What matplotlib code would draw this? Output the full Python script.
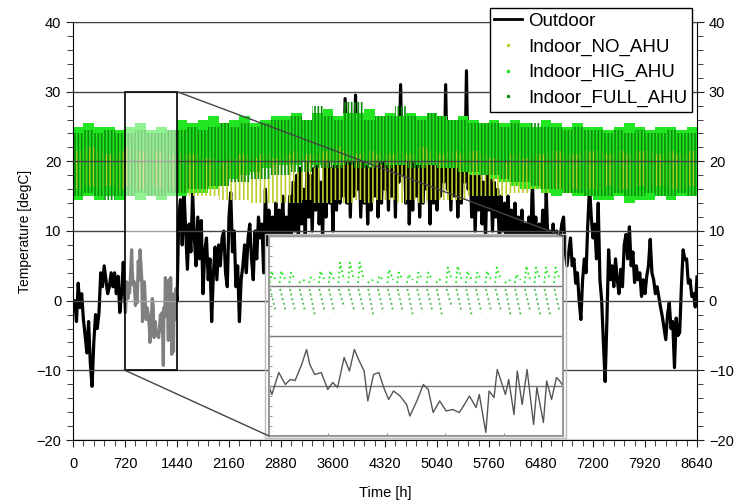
import numpy as np
import matplotlib
matplotlib.use('Agg')
import matplotlib.pyplot as plt
from matplotlib.patches import Rectangle, ConnectionPatch
from matplotlib.lines import Line2D
from matplotlib.ticker import MultipleLocator

plt.rcParams['font.family'] = ['Liberation Sans', 'DejaVu Sans']
plt.rcParams['hatch.linewidth'] = 1.2

# ---- outdoor temperature ----
# 0 .. 696 h, one value per 24 h
seg0_t = [-1, 0, -3, 2.5, -1, 1, -2.7, -5, -7.5, -3, -9, -12.3, -6, -2, -4,
          -1.7, 4, 2, 5, 3, 1, 2, 4, 2, 4, 1, 3.5, -1.7, 1, 5.5]
# 720 .. 1440 h (zoomed part)
box_h = [727, 744, 760, 772, 784, 800, 812, 820, 832, 848, 864, 876, 888, 904,
         917, 929, 941, 953, 962, 976, 989, 1001, 1013, 1025, 1041, 1057, 1065,
         1082, 1098, 1110, 1122, 1138, 1154, 1170, 1186, 1194, 1211, 1227, 1235,
         1251, 1259, 1271, 1279, 1287, 1299, 1307, 1320, 1328, 1340, 1352, 1368,
         1376, 1392, 1400, 1412, 1424, 1432]
box_t = [-1.7, 2.7, 0.3, 1.3, 1.1, 4.3, 7.3, 4.3, 2.3, 2.7, -0.7, 0.7, -0.3, 5.7,
         3, 7.3, 5, 3, -3, 2.3, 2.7, -0.3, -2.7, -1, -2, -3.7, -6,
         -3, 0.3, -0.7, -5.3, -3, -5, -4.7, -5.3, -4.3, -2, -4.3, -1.7,
         -9.3, -1, -2.3, 3.3, 1.3, -1.7, 1.3, -5.7, 3, -3.7, 3.3, -7.7,
         -0.3, -7.3, 1, -2.7, 1.7, 1]
# 1440 .. 6840 h, one value per 24 h
seg2_t = [0, 12, 14.5, 8, 16, 10, 4.5, 11, 7, 15.5, 9, 5, 12, 6, 11.5, 1, 7, 9,
          3, 6, -3, 4, 7.7, 3, 8, 5, 9, 10, 4, 2, 12, 15.5, 7, 10, 2, 5, -3, 3,
          5, 8, 4, 9, 11, 6, 3, 10, 6, 12, 9,
          11, 4, 16, 8, 13, 6, 12, 5, 14, 7,
          13, 6, 15, 8, 12, 5, 15, 9, 17, 10,
          18, 8, 19, 11, 16, 9, 20, 12, 18, 10,
          19, 13, 21, 11, 17, 9, 20, 12, 22, 14,
          19, 10, 21, 13, 23, 14, 20, 15, 29, 14,
          21, 12, 22, 15, 29.5, 16, 21, 12, 20, 14,
          22, 11, 19, 13, 21, 15, 23, 12, 20, 14,
          22, 16, 21, 13, 23, 15, 24, 12, 25, 17,
          31, 18, 24, 14, 22, 11, 20, 13, 22, 15,
          23, 12, 21, 14, 22, 16, 20, 11, 22, 14,
          21, 13, 23, 15, 22, 17, 31, 16, 22, 13,
          21, 15, 22, 12, 20, 14, 22, 17, 33, 16,
          21, 12, 19, 10, 18, 13, 20, 11, 17, 9,
          19, 13, 18, 10, 17, 12, 16, 8, 15, 10,
          14, 7, 15, 9, 13, 6, 14, 8, 12, 5,
          13, 7, 11, 4, 12, 6, 17.8, 8, 12, 5,
          11, 7, 13, 4, 16, 8, 10, 3, 11, 5,
          10, 2, 9, 11, 12, 7, 5]
# 6864 .. 8640 h, one value per 24 h
seg3_t = [7, 9, 5, 6, 2.5, 4, 0, -2.7, 3, 6, 4, 11, 16.4, 12, 9, 11, 6, 14, 3, 0,
          -6, -11.6, -3, 7.3, 3, 5, 2, 6, 3, 1, 4.5, 2, 8, 9.5, 6, 10.6, 5, 7,
          2.6, 5, 3, 4, 0.6, 3, 1, 3.5, 5, 8.8, 4, 3, 1, 2, 0.5, -1, -2.3, -4,
          -5.6, -2, -0.3, -4, -3, -9.6, -2.5, -5, -4.6, 2, 7.3, 5.9, 6, 2.5, 3,
          0.6, 1, -0.9, 3.4]

# ---- indoor temperature ranges per 144 h block ----
no_lo = [16, 16.5, 16, 16.5, 16, 16.5, 16, 16.5, 16, 16,
         15.5, 15, 15, 15, 14.5, 14.5, 14.5, 14, 14, 14,
         14, 14, 14.5, 14, 14, 14.5, 14, 14.5, 14, 14.5,
         14.5, 14, 14.5, 14, 14.5, 14.5, 14.5, 14.5, 15, 15,
         15, 15, 15.5, 15.5, 16, 15.5, 16, 15.5, 16, 16,
         16, 16.5, 16, 16, 16.5, 16, 16.5, 16, 16, 16.5]
no_hi = [21.5, 22, 21.5, 21, 21.5, 22, 21.5, 21, 21.5, 21,
         21, 21, 20.5, 20.5, 20, 20.5, 21, 20.5, 21, 20.5,
         21, 21.5, 21, 21, 21.5, 22, 21.5, 21, 21.5, 21,
         21, 21.5, 21, 22, 21.5, 21, 21.5, 21, 21.5, 21,
         20.5, 20, 21, 20.5, 21, 21, 21.5, 21, 21, 21.5,
         21.5, 21, 21.5, 21, 21.5, 21.5, 21, 21.5, 21, 21.5]
hig_lo = [14.5, 15, 14.5, 15, 14.5, 15, 14.5, 15, 14.5, 15,
          15, 15.5, 15.5, 16, 16.5, 17.5, 18, 18.5, 19, 19.5,
          19.5, 19.5, 20, 19.5, 20, 19.5, 20, 20, 19.5, 20,
          19.5, 19.5, 20, 19.5, 19.5, 19, 19, 18.5, 18, 18,
          17.5, 17, 16.5, 16, 16, 15.5, 15, 15.5, 15, 15,
          14.5, 14.5, 15, 14, 14.5, 14.5, 15, 14.5, 15, 15]
hig_hi = [25, 25.5, 25, 25, 24.5, 25, 25.5, 24.5, 25, 24.5,
          26, 25.5, 26, 26.5, 25.5, 26, 26.5, 25.5, 26, 26.5,
          26.5, 27, 26, 27, 27.5, 26.5, 27, 27, 27.5, 26.5,
          27, 26.5, 27, 26.5, 27, 26.5, 26, 26.5, 26, 25.5,
          26, 25.5, 26, 25.5, 25, 26, 25.5, 25, 25.5, 25,
          25, 24.5, 25, 25.5, 25, 24.5, 25, 25, 24.5, 25]
full_lo = [15, 15.5, 15, 14.5, 15, 15, 15.5, 15, 15, 15.5,
           15.5, 16, 16, 16.5, 16.5, 17, 17, 17.5, 17.5, 18,
           18, 18.5, 18.5, 19, 19, 19, 19.5, 19, 19, 19.5,
           19, 19.5, 19, 19, 19.5, 19, 19, 18.5, 18.5, 18,
           18, 17.5, 17, 17, 16.5, 16, 16, 15.5, 15.5, 15,
           15, 15, 15.5, 15, 15, 15.5, 15, 15, 15.5, 15]
full_hi = [24, 24.5, 24, 24.5, 24, 24, 24.5, 24, 24, 24.5,
           24.5, 25, 24.5, 25, 25.5, 25, 25.5, 25, 25.5, 26,
           26, 26.5, 26, 28, 26.5, 26, 28.5, 28.5, 26, 26.5,
           26.5, 28, 26.5, 26, 27, 26.5, 26, 26, 25.5, 25.5,
           25.5, 25, 25.5, 25, 25.5, 25, 25, 24.5, 25, 24.5,
           24.5, 24, 24.5, 24, 24.5, 24, 24, 24.5, 24, 24]

# ---- inset: daily indoor peaks / lows, 720 .. 1440 h ----
zoom_peak = [23, 23, 22.7, 21, 21.7, 23, 23, 24.7, 24.7, 24.7,
             21, 22, 23.3, 22.7, 22.3, 22.7, 22.7, 21.3, 23.7, 24,
             23, 22.7, 23, 23.7, 21, 22.3, 24, 23.7, 23.7, 23.7]
zoom_low = [15, 15.3, 15, 15, 14.3, 15, 14.7, 15.7, 15.3, 15,
            14, 14.7, 15, 14.7, 14.3, 14.7, 15, 14, 15.7, 14.7,
            14.3, 14.7, 15, 15, 14, 14.3, 14.7, 14.3, 14.3, 14.7]

c_no = '#bccc28'
c_hig = '#22e622'
c_full = '#0a8c0a'

out_h = np.concatenate([np.arange(len(seg0_t)) * 24, box_h,
                        1440 + np.arange(len(seg2_t)) * 24,
                        6864 + np.arange(len(seg3_t)) * 24])
out_t = np.concatenate([seg0_t, box_t, seg2_t, seg3_t])
edges = 144 * np.arange(len(no_lo) + 1)

fig = plt.figure(figsize=(7.35, 5.04), dpi=100)
ax = fig.add_axes([73 / 735, 64 / 504, 624 / 735, 418 / 504])

ax.plot(out_h, out_t, color='black', lw=2.3, zorder=1.5)
ax.stairs(hig_hi, edges, baseline=hig_lo, fill=True, color=c_hig,
          zorder=1.7)
ax.stairs(no_hi, edges, baseline=no_lo, fill=True, facecolor='none',
          edgecolor=c_no, hatch='||||', lw=0, zorder=1.8)
ax.stairs(full_hi, edges, baseline=full_lo, fill=True, facecolor='none',
          edgecolor=c_full, hatch='|||||', lw=0, zorder=1.9)

ax.set_xlim(0, 8640)
ax.set_ylim(-20, 40)
ax.xaxis.set_major_locator(MultipleLocator(720))
ax.xaxis.set_minor_locator(MultipleLocator(144))
ax.yaxis.set_major_locator(MultipleLocator(10))
ax.yaxis.set_minor_locator(MultipleLocator(2))
ax.tick_params(which='both', direction='out', labelsize=10.5, right=True,
               labelright=True, top=False, color='#222222')
ax.tick_params(which='major', length=5)
ax.tick_params(which='minor', length=4)
ax.tick_params(axis='x', pad=7)
ax.grid(axis='y', which='major', color='#444444', lw=1, zorder=2.5)
ax.set_axisbelow(False)
ax.spines['top'].set_color('#777777')
ax.set_xlabel('Time [h]', fontsize=10.5, labelpad=11)
ax.set_ylabel('Temperature [degC]', fontsize=10, labelpad=3)

# faded zoom window
ax.add_patch(Rectangle((720, -10), 720, 40, facecolor='white', alpha=0.5,
                       edgecolor='none', zorder=3))
ax.add_patch(Rectangle((720, -10), 720, 40, facecolor='none',
                       edgecolor='black', lw=1.2, zorder=3.1))

leg = ax.legend(handles=[
    Line2D([], [], color='black', lw=2),
    Line2D([], [], ls='none', marker='.', ms=3, color=c_no),
    Line2D([], [], ls='none', marker='.', ms=3, color=c_hig),
    Line2D([], [], ls='none', marker='.', ms=3, color=c_full)],
    labels=['Outdoor', 'Indoor_NO_AHU', 'Indoor_HIG_AHU', 'Indoor_FULL_AHU'],
    loc='upper right', bbox_to_anchor=(1 - 5 / 624, 1 + 14 / 418),
    borderaxespad=0, fontsize=13.5, handlelength=1.5, handletextpad=0.3,
    labelspacing=0.45, borderpad=0.25, fancybox=False, framealpha=1,
    edgecolor='black')
leg.get_frame().set_linewidth(1)
leg.set_zorder(5)

# inset
ins = fig.add_axes([269 / 735, 68 / 504, 294 / 735, 200 / 504])
ins.plot(out_h, out_t, color='#555555', lw=1)
days = 720 + 24 * np.arange(len(zoom_peak))
for d, pk, lo in zip(days, zoom_peak, zoom_low):
    ins.plot([d + 2, d + 6, d + 16], [20.6, pk, 21.2], ls=':', lw=1.3,
             color=c_hig)
    ins.plot([d + 3, d + 16], [19.4, lo], ls=':', lw=1.3, color='#44b844')
ins.set_xlim(720, 1440)
ins.set_ylim(-10, 30)
ins.xaxis.set_major_locator(MultipleLocator(144))
ins.yaxis.set_major_locator(MultipleLocator(10))
ins.yaxis.set_minor_locator(MultipleLocator(2))
ins.tick_params(which='both', direction='in', labelleft=False,
                labelbottom=False, length=2, color='#888888')
ins.grid(axis='y', which='major', color='#777777', lw=1)
for s in ins.spines.values():
    s.set_color('#999999')
    s.set_linewidth(1.5)
fig.add_artist(Rectangle((265 / 735, 66 / 504), 301 / 735, 204 / 504,
                         transform=fig.transFigure, facecolor='none',
                         edgecolor='#bbbbbb', lw=1))

for xy_main, xy_ins in [((1440, 30), (1, 1)), ((720, -10), (0, 0))]:
    con = ConnectionPatch(xyA=xy_main, coordsA=ax.transData,
                          xyB=xy_ins, coordsB=ins.transAxes,
                          color='#444444', lw=1)
    fig.add_artist(con)

fig.savefig('out.png', dpi=100)
